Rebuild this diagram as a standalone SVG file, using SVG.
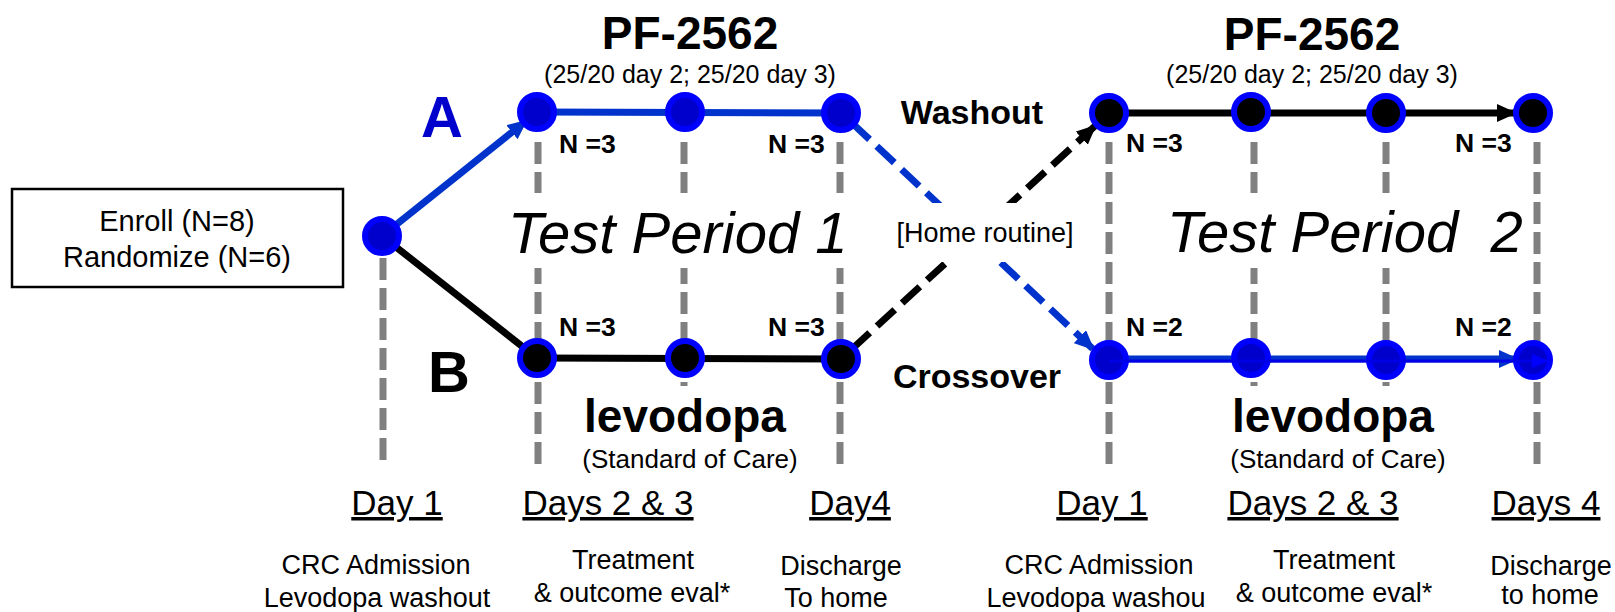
<svg xmlns="http://www.w3.org/2000/svg" width="1615" height="612" viewBox="0 0 1615 612">
<style>
text{font-family:"Liberation Sans",Arial,Helvetica,sans-serif;fill:#000}
.guide{stroke:#808080;stroke-width:7;stroke-dasharray:22 8;fill:none}
.nb{fill:#0000CC;stroke:#0000FF;stroke-width:6}
.nk{fill:#000;stroke:#0000FF;stroke-width:6}
.lb{stroke:#0033CC;stroke-width:7;fill:none}
.lk{stroke:#000;stroke-width:7;fill:none}
.dash{stroke-dasharray:24 10}
.n{font-size:26.5px;font-weight:bold}
.big{font-size:46px;font-weight:bold;text-anchor:middle}
.sub{font-size:25px;text-anchor:middle}
.tp{font-size:58px;font-style:italic}
.day{font-size:35px;text-anchor:middle;text-decoration:underline}
.desc{font-size:27px;text-anchor:middle}
.lab{font-size:34px;font-weight:bold;text-anchor:middle}
</style>
<defs>
<marker id="ahB" markerUnits="userSpaceOnUse" viewBox="0 0 20 18" markerWidth="20" markerHeight="18" refX="18" refY="9" orient="auto"><path d="M0,0 L20,9 L0,18 z" fill="#0033CC"/></marker>
<marker id="ahK" markerUnits="userSpaceOnUse" viewBox="0 0 20 18" markerWidth="20" markerHeight="18" refX="18" refY="9" orient="auto"><path d="M0,0 L20,9 L0,18 z" fill="#000"/></marker>
<marker id="ahF" markerUnits="userSpaceOnUse" viewBox="0 0 16 14" markerWidth="16" markerHeight="14" refX="14" refY="7" orient="auto"><path d="M0,0 L16,7 L0,14 z" fill="#0000FF"/></marker>
</defs>

<g id="guides">
<line class="guide" x1="383" y1="258" x2="383" y2="467"/>
<line class="guide" x1="538" y1="142" x2="538" y2="466"/>
<line class="guide" x1="684" y1="142" x2="684" y2="386"/>
<line class="guide" x1="840" y1="142" x2="840" y2="466"/>
<line class="guide" x1="1109" y1="142" x2="1109" y2="464"/>
<line class="guide" x1="1254" y1="142" x2="1254" y2="386"/>
<line class="guide" x1="1386" y1="142" x2="1386" y2="386"/>
<line class="guide" x1="1537" y1="142" x2="1537" y2="464"/>
</g>

<g id="period-titles">
<rect x="470" y="193" width="388" height="75" fill="#fff"/>
<text class="tp" x="508" y="253">Test Period 1</text>
<rect x="1150" y="193" width="380" height="75" fill="#fff"/>
<text class="tp" x="1167" y="252" xml:space="preserve">Test Period  2</text>
</g>

<g id="connectors">
<line class="lb" x1="382" y1="236" x2="526" y2="121" marker-end="url(#ahB)"/>
<line class="lk" x1="382" y1="236" x2="537" y2="358"/>
<line class="lb" x1="537" y1="112" x2="841" y2="113"/>
<line class="lk" x1="537" y1="358" x2="841" y2="359"/>
<line class="lb dash" x1="852" y1="123" x2="1093" y2="349" marker-end="url(#ahB)"/>
<line class="lk dash" x1="852" y1="349" x2="1095" y2="126" marker-end="url(#ahK)"/>
<line class="lk" x1="1109" y1="113" x2="1515" y2="113" marker-end="url(#ahK)"/>
<line class="lb" x1="1109" y1="359" x2="1517" y2="359" marker-end="url(#ahB)"/>
</g>

<g id="home-routine">
<rect x="892" y="203" width="185" height="59" fill="#fff"/>
<text class="desc" x="985" y="242">[Home routine]</text>
</g>

<g id="enroll">
<rect x="12" y="189" width="331" height="98" fill="#fff" stroke="#000" stroke-width="2.5"/>
<text class="desc" x="177" y="231" style="font-size:29px">Enroll (N=8)</text>
<text class="desc" x="177" y="267" style="font-size:29px">Randomize (N=6)</text>
</g>

<g id="node-randomize"><circle class="nb" cx="382" cy="236" r="17"/></g>
<g id="node-a1"><circle class="nb" cx="537" cy="112" r="17"/></g>
<g id="node-a2"><circle class="nb" cx="685" cy="112" r="17"/></g>
<g id="node-a3"><circle class="nb" cx="841" cy="113" r="17"/></g>
<g id="node-b1"><circle class="nk" cx="537" cy="358" r="17"/></g>
<g id="node-b2"><circle class="nk" cx="685" cy="358" r="17"/></g>
<g id="node-b3"><circle class="nk" cx="841" cy="359" r="17"/></g>
<g id="node-p2a1"><circle class="nk" cx="1109" cy="113" r="17"/></g>
<g id="node-p2a2"><circle class="nk" cx="1251" cy="112" r="17"/></g>
<g id="node-p2a3"><circle class="nk" cx="1386" cy="113" r="17"/></g>
<g id="node-p2a4"><circle class="nk" cx="1533" cy="113" r="17"/></g>
<g id="node-p2b1"><circle class="nb" cx="1109" cy="360" r="17"/></g>
<g id="node-p2b2"><circle class="nb" cx="1251" cy="358" r="17"/></g>
<g id="node-p2b3"><circle class="nb" cx="1386" cy="360" r="17"/></g>
<g id="node-p2b4"><circle class="nb" cx="1533" cy="360" r="17"/></g>

<g id="overlay">
<line x1="1109" y1="361" x2="1546" y2="361" stroke="#0000E6" stroke-width="3" marker-end="url(#ahF)"/>
</g>

<g id="labels">
<text x="442" y="137" style="font-size:58px;font-weight:bold;fill:#0000CC;text-anchor:middle">A</text>
<text x="449" y="392" style="font-size:58px;font-weight:bold;text-anchor:middle">B</text>
<text class="big" x="690" y="49">PF-2562</text>
<text class="sub" x="690" y="83">(25/20 day 2; 25/20 day 3)</text>
<text class="big" x="1312" y="50">PF-2562</text>
<text class="sub" x="1312" y="83">(25/20 day 2; 25/20 day 3)</text>
<text class="big" x="685" y="432">levodopa</text>
<text class="sub" x="690" y="468" style="font-size:26px">(Standard of Care)</text>
<text class="big" x="1333" y="432">levodopa</text>
<text class="sub" x="1338" y="468" style="font-size:26px">(Standard of Care)</text>
<text class="n" x="559" y="153">N =3</text>
<text class="n" x="768" y="153">N =3</text>
<text class="n" x="559" y="336">N =3</text>
<text class="n" x="768" y="336">N =3</text>
<text class="n" x="1126" y="152">N =3</text>
<text class="n" x="1455" y="152">N =3</text>
<text class="n" x="1126" y="336">N =2</text>
<text class="n" x="1455" y="336">N =2</text>
<text class="lab" x="972" y="124">Washout</text>
<text class="lab" x="977" y="388">Crossover</text>
<text class="day" x="397" y="515">Day 1</text>
<text class="day" x="608" y="515">Days 2 &amp; 3</text>
<text class="day" x="850" y="515">Day4</text>
<text class="day" x="1102" y="515">Day 1</text>
<text class="day" x="1313" y="515">Days 2 &amp; 3</text>
<text class="day" x="1546" y="515">Days 4</text>
<text class="desc" x="376" y="574">CRC Admission</text>
<text class="desc" x="377" y="607">Levodopa washout</text>
<text class="desc" x="633" y="569">Treatment</text>
<text class="desc" x="632" y="602">&amp; outcome eval*</text>
<text class="desc" x="841" y="575">Discharge</text>
<text class="desc" x="836" y="607">To home</text>
<text class="desc" x="1099" y="574">CRC Admission</text>
<text class="desc" x="1096" y="607">Levodopa washou</text>
<text class="desc" x="1334" y="569">Treatment</text>
<text class="desc" x="1334" y="602">&amp; outcome eval*</text>
<text class="desc" x="1551" y="575">Discharge</text>
<text class="desc" x="1550" y="604">to home</text>
</g>
</svg>
